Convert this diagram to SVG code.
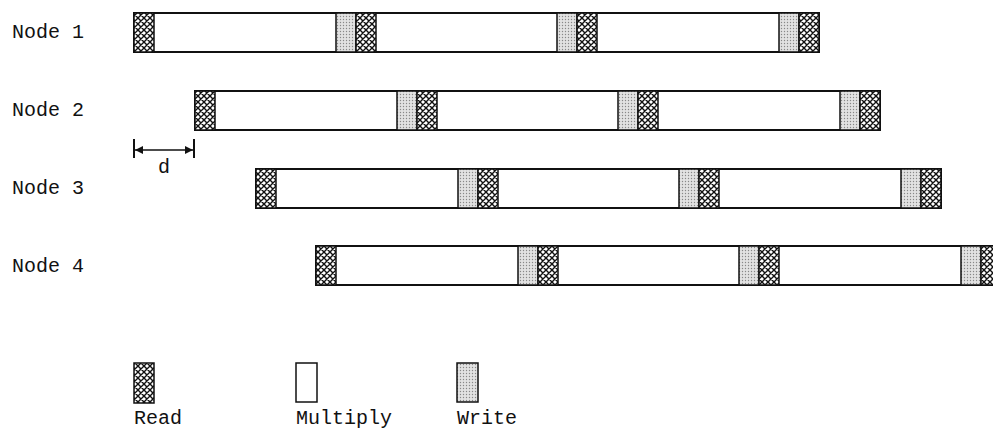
<svg xmlns="http://www.w3.org/2000/svg" width="993" height="432" viewBox="0 0 993 432">
<defs>
<pattern id="hatch" width="6" height="6" patternUnits="userSpaceOnUse">
<rect width="6" height="6" fill="#fff"/>
<path d="M-1,1 L1,-1 M0,6 L6,0 M5,7 L7,5 M-1,5 L1,7 M0,0 L6,6 M5,-1 L7,1" stroke="#111" stroke-width="1.4"/>
</pattern>
<pattern id="dots" width="3" height="3" patternUnits="userSpaceOnUse">
<rect width="3" height="3" fill="#e2e2e2"/>
<circle cx="1.5" cy="1.5" r="0.7" fill="#888"/>
</pattern>
<marker id="ah" viewBox="0 0 10 10" refX="10" refY="5" markerWidth="8" markerHeight="8" orient="auto-start-reverse" markerUnits="userSpaceOnUse">
<path d="M0,0 L10,5 L0,10 Z" fill="#111"/>
</marker>
</defs>
<style>
.bar{fill:#fff;stroke:#111;stroke-width:2}
.rd{fill:url(#hatch);stroke:#111;stroke-width:1.5}
.wr{fill:url(#dots);stroke:#111;stroke-width:1.5}
.mu{fill:#fff;stroke:#111;stroke-width:1.5}
.lbl{font-family:"Liberation Mono","DejaVu Sans Mono",monospace;font-size:20px;fill:#111}
</style>
<rect width="993" height="432" fill="#fff"/>
<g id="node1">
<text class="lbl" x="12" y="38">Node 1</text>
<rect class="bar" x="134" y="13" width="685" height="39"/>
<rect class="rd" x="134" y="13" width="20" height="39"/>
<rect class="wr" x="336" y="13" width="20" height="39"/>
<rect class="rd" x="356" y="13" width="20" height="39"/>
<rect class="wr" x="557" y="13" width="20" height="39"/>
<rect class="rd" x="577" y="13" width="20" height="39"/>
<rect class="wr" x="779" y="13" width="20" height="39"/>
<rect class="rd" x="799" y="13" width="20" height="39"/>
</g>
<g id="node2">
<text class="lbl" x="12" y="116">Node 2</text>
<rect class="bar" x="195" y="91" width="685" height="39"/>
<rect class="rd" x="195" y="91" width="20" height="39"/>
<rect class="wr" x="397" y="91" width="20" height="39"/>
<rect class="rd" x="417" y="91" width="20" height="39"/>
<rect class="wr" x="618" y="91" width="20" height="39"/>
<rect class="rd" x="638" y="91" width="20" height="39"/>
<rect class="wr" x="840" y="91" width="20" height="39"/>
<rect class="rd" x="860" y="91" width="20" height="39"/>
</g>
<g id="node3">
<text class="lbl" x="12" y="194">Node 3</text>
<rect class="bar" x="256" y="169" width="685" height="39"/>
<rect class="rd" x="256" y="169" width="20" height="39"/>
<rect class="wr" x="458" y="169" width="20" height="39"/>
<rect class="rd" x="478" y="169" width="20" height="39"/>
<rect class="wr" x="679" y="169" width="20" height="39"/>
<rect class="rd" x="699" y="169" width="20" height="39"/>
<rect class="wr" x="901" y="169" width="20" height="39"/>
<rect class="rd" x="921" y="169" width="20" height="39"/>
</g>
<g id="node4">
<text class="lbl" x="12" y="272">Node 4</text>
<rect class="bar" x="316" y="246" width="685" height="39"/>
<rect class="rd" x="316" y="246" width="20" height="39"/>
<rect class="wr" x="518" y="246" width="20" height="39"/>
<rect class="rd" x="538" y="246" width="20" height="39"/>
<rect class="wr" x="739" y="246" width="20" height="39"/>
<rect class="rd" x="759" y="246" width="20" height="39"/>
<rect class="wr" x="961" y="246" width="20" height="39"/>
<rect class="rd" x="981" y="246" width="20" height="39"/>
</g>
<g id="connectors">
<line x1="134" y1="139" x2="134" y2="158" stroke="#111" stroke-width="2"/>
<line x1="194" y1="139" x2="194" y2="158" stroke="#111" stroke-width="2"/>
<line x1="135" y1="150" x2="193" y2="150" stroke="#111" stroke-width="1.5" marker-start="url(#ah)" marker-end="url(#ah)"/>
<text class="lbl" x="158" y="173">d</text>
</g>
<g id="legend">
<rect class="rd" x="134" y="363" width="20" height="40"/>
<text class="lbl" x="134" y="424">Read</text>
<rect class="mu" x="296" y="363" width="21" height="39"/>
<text class="lbl" x="296" y="424">Multiply</text>
<rect class="wr" x="457" y="363" width="21" height="39"/>
<text class="lbl" x="457" y="424">Write</text>
</g>
</svg>
